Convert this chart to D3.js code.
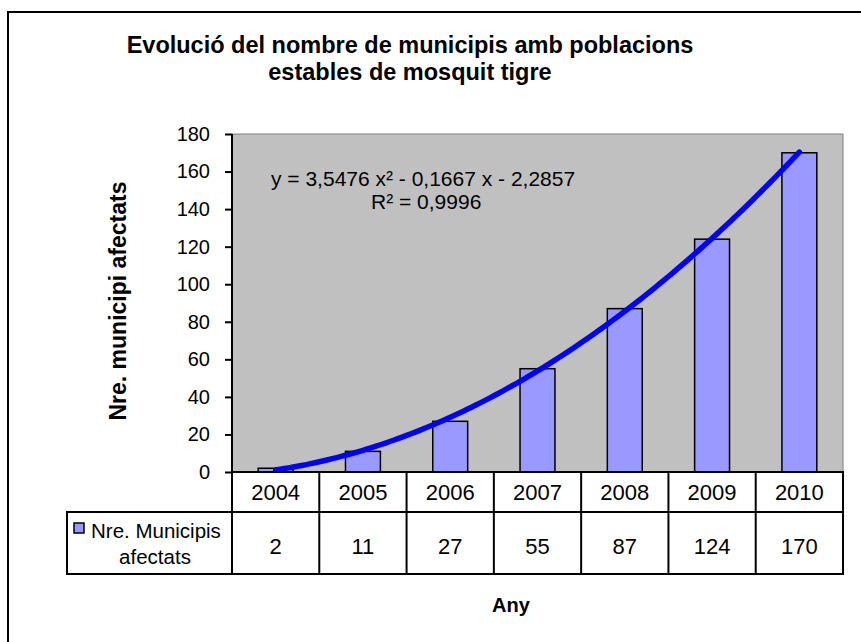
<!DOCTYPE html>
<html>
<head>
<meta charset="utf-8">
<script src="https://cdn.jsdelivr.net/npm/d3@7"></script>
<style>
  body { margin: 0; background: #fff; }
  svg { display: block; font-family: "Liberation Sans", Arial, sans-serif; }
  .axis path, .axis line { stroke: #000; stroke-width: 2; }
  .axis text { font-size: 20px; fill: #000; }
  .bold { font-weight: bold; }
</style>
</head>
<body>
<svg id="chart" width="861" height="642"></svg>
<script>
// data
const years = ["2004", "2005", "2006", "2007", "2008", "2009", "2010"];
const municipis = [2, 11, 27, 55, 87, 124, 170];
const yTicks = [0, 20, 40, 60, 80, 100, 120, 140, 160, 180];
// polynomial trendline shown on the chart: y = a x^2 + b x + c  (x = 1..7)
const trendCoef = [3.5476, -0.1667, -2.2857];
const trendLabel = ["y = 3,5476 x\u00B2 - 0,1667 x - 2,2857", "R\u00B2 = 0,9996"];
const seriesName = ["Nre. Municipis", "afectats"];

const svg = d3.select("#chart");
const plotL = 232, plotR = 843, plotT = 134, plotB = 472;
const row1 = 512, row2 = 574, legendLeft = 67;

// outer chart border (runs off the right and bottom edge)
svg.append("rect")
    .attr("x", 8).attr("y", 12).attr("width", 870).attr("height", 650)
    .attr("fill", "#fff").attr("stroke", "#000").attr("stroke-width", 2);

// title
svg.append("text").attr("class", "bold")
    .attr("x", 410).attr("y", 53).attr("text-anchor", "middle")
    .style("font-size", "23.5px")
    .text("Evolució del nombre de municipis amb poblacions");
svg.append("text").attr("class", "bold")
    .attr("x", 410).attr("y", 80).attr("text-anchor", "middle")
    .style("font-size", "23.5px")
    .text("estables de mosquit tigre");

let x = d3.scaleBand().domain(years).range([plotL, plotR]);
let y = d3.scaleLinear().domain([0, 180]).range([plotB, plotT]);

// plot area
svg.append("rect")
    .attr("x", plotL).attr("y", plotT).attr("width", plotR - plotL).attr("height", plotB - plotT)
    .attr("fill", "#c0c0c0");
svg.append("path")
    .attr("d", `M${plotL},${plotT}H${plotR}V${plotB}`)
    .attr("fill", "none").attr("stroke", "#808080").attr("stroke-width", 1);

// bars
let barW = x.bandwidth() / 2.5;
svg.selectAll(".bar")
    .data(municipis)
    .enter()
    .append("rect").attr("class", "bar")
    .attr("x", (d, i) => x(years[i]) + (x.bandwidth() - barW) / 2)
    .attr("y", d => y(d))
    .attr("width", barW)
    .attr("height", d => y(0) - y(d))
    .attr("fill", "#9999ff").attr("stroke", "#000").attr("stroke-width", 1.5);

// trendline
let tx = d3.scaleLinear().domain([1, years.length])
    .range([x(years[0]) + x.bandwidth() / 2, x(years[years.length - 1]) + x.bandwidth() / 2]);
let tPts = d3.range(1, years.length + 0.001, 0.05)
    .map(t => [tx(t), y(trendCoef[0] * t * t + trendCoef[1] * t + trendCoef[2])]);
svg.append("path")
    .attr("d", d3.line()(tPts))
    .attr("fill", "none").attr("stroke", "#0000ff").attr("stroke-width", 5.5)
    .attr("stroke-linecap", "round");

// trendline equation
svg.append("text").attr("x", 271).attr("y", 186).style("font-size", "21px").text(trendLabel[0]);
svg.append("text").attr("x", 371).attr("y", 209).style("font-size", "21px").text(trendLabel[1]);

// y axis
let y_axis = d3.axisLeft(y).tickValues(yTicks).tickSize(7).tickPadding(15);
svg.append("g").attr("class", "axis")
    .attr("transform", `translate(${plotL},0)`)
    .call(y_axis)
    .call(g => g.select(".domain").attr("d", `M0,${plotT}V${plotB}`));

svg.append("g")
    .attr("transform", `translate(126,${(plotT + plotB) / 2 - 2}) rotate(270)`)
    .append("text").attr("class", "bold")
    .attr("text-anchor", "middle")
    .style("font-size", "23px")
    .text("Nre. municipi afectats");

// data table
let grid = svg.append("g").attr("stroke", "#000").attr("stroke-width", 2).attr("fill", "none");
grid.append("path").attr("d", `M${plotL},${plotB}H${plotR}V${row2}H${legendLeft}V${row1}H${plotR}`);
grid.append("path").attr("d", `M${plotL},${plotB}V${row2}`);
years.forEach(yr => {
    let bx = x(yr) + x.bandwidth();
    grid.append("path").attr("d", `M${bx},${plotB}V${row2}`);
});

svg.selectAll(".yearLbl")
    .data(years)
    .enter()
    .append("text").attr("class", "yearLbl")
    .attr("x", d => x(d) + x.bandwidth() / 2)
    .attr("y", 500)
    .attr("text-anchor", "middle")
    .style("font-size", "22px")
    .text(d => d);

svg.selectAll(".valLbl")
    .data(municipis)
    .enter()
    .append("text").attr("class", "valLbl")
    .attr("x", (d, i) => x(years[i]) + x.bandwidth() / 2)
    .attr("y", 554)
    .attr("text-anchor", "middle")
    .style("font-size", "22px")
    .text(d => d);

// legend key in the table
svg.append("rect")
    .attr("x", 74).attr("y", 523).attr("width", 10).attr("height", 10)
    .attr("fill", "#9999ff").attr("stroke", "#000").attr("stroke-width", 1.5);
svg.append("text").attr("x", 91).attr("y", 538).style("font-size", "20.5px").text(seriesName[0]);
svg.append("text").attr("x", 155).attr("y", 564).attr("text-anchor", "middle")
    .style("font-size", "20.5px").text(seriesName[1]);

svg.append("text").attr("class", "bold")
    .attr("x", 511).attr("y", 612).attr("text-anchor", "middle")
    .style("font-size", "20px")
    .text("Any");
</script>
</body>
</html>
